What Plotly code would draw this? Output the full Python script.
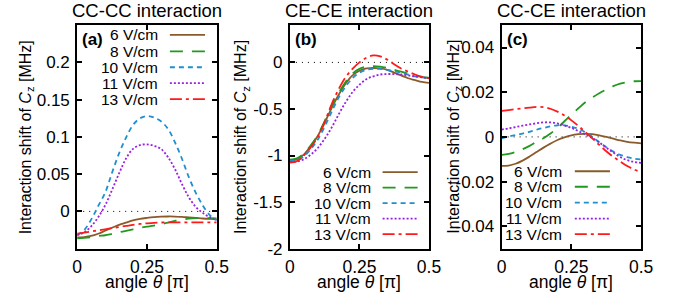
import plotly.graph_objects as go

# ---------------- data ----------------
theta = [0, 0.025, 0.05, 0.075, 0.1, 0.125, 0.15, 0.175, 0.2, 0.225, 0.25,
         0.275, 0.3, 0.325, 0.35, 0.375, 0.4, 0.425, 0.45, 0.475, 0.5]

fields = ["6 V/cm", "8 V/cm", "10 V/cm", "11 V/cm", "13 V/cm"]

# (a) CC-CC interaction
cccc_6 = [-0.035, -0.0345, -0.033, -0.030, -0.026, -0.022, -0.018, -0.015, -0.012, -0.0100, -0.0087,
          -0.0077, -0.0071, -0.0068, -0.0069, -0.0074, -0.0081, -0.0088, -0.0095, -0.0100, -0.0103]
cccc_8 = [-0.036, -0.0355, -0.0345, -0.033, -0.032, -0.030, -0.028, -0.026, -0.024, -0.022, -0.0205,
          -0.019, -0.0172, -0.015, -0.0128, -0.011, -0.0098, -0.0091, -0.0090, -0.0092, -0.0095]
cccc_10 = [-0.032, -0.025, -0.011, 0.007, 0.025, 0.052, 0.078, 0.099, 0.116, 0.125, 0.128,
           0.126, 0.121, 0.111, 0.093, 0.071, 0.046, 0.025, 0.008, -0.005, -0.012]
cccc_11 = [-0.032, -0.028, -0.020, -0.008, 0.008, 0.029, 0.051, 0.071, 0.084, 0.089, 0.090,
           0.088, 0.084, 0.073, 0.057, 0.037, 0.019, 0.006, -0.002, -0.008, -0.012]
cccc_13 = [-0.0297, -0.0285, -0.027, -0.0255, -0.024, -0.0225, -0.021, -0.0195, -0.018, -0.0168, -0.016,
           -0.0153, -0.0149, -0.0147, -0.0146, -0.0146, -0.0146, -0.0146, -0.0146, -0.0146, -0.0146]

# (b) CE-CE interaction
cece_6 = [-1.05, -1.04, -0.99, -0.90, -0.79, -0.65, -0.49, -0.35, -0.23, -0.14, -0.09,
          -0.065, -0.06, -0.065, -0.08, -0.11, -0.14, -0.17, -0.19, -0.21, -0.22]
cece_8 = [-1.045, -1.03, -0.98, -0.89, -0.78, -0.63, -0.47, -0.33, -0.21, -0.12, -0.07,
          -0.045, -0.04, -0.045, -0.06, -0.08, -0.10, -0.12, -0.14, -0.155, -0.165]
cece_10 = [-1.06, -1.05, -1.01, -0.93, -0.83, -0.69, -0.53, -0.38, -0.26, -0.17, -0.11,
           -0.08, -0.07, -0.07, -0.08, -0.095, -0.11, -0.13, -0.15, -0.16, -0.17]
cece_11 = [-1.07, -1.065, -1.04, -0.99, -0.92, -0.82, -0.70, -0.56, -0.43, -0.32, -0.24,
           -0.18, -0.15, -0.13, -0.125, -0.125, -0.13, -0.14, -0.15, -0.16, -0.17]
cece_13 = [-1.075, -1.06, -1.0, -0.91, -0.80, -0.64, -0.45, -0.29, -0.16, -0.07, 0.0,
           0.05, 0.075, 0.065, 0.03, -0.02, -0.065, -0.10, -0.13, -0.155, -0.17]

# (c) CC-CE interaction
ccce_6 = [-0.0130, -0.0128, -0.0120, -0.0106, -0.0088, -0.0068, -0.0048, -0.0030, -0.0014, -0.0002, 0.0007,
          0.0012, 0.0014, 0.0012, 0.0007, 0.0000, -0.0008, -0.0016, -0.0022, -0.0026, -0.0029]
ccce_8 = [-0.0080, -0.0076, -0.0067, -0.0055, -0.0040, -0.0022, -0.0006, 0.0015, 0.0040, 0.0070, 0.0100,
          0.0128, 0.0155, 0.0176, 0.0195, 0.0212, 0.0227, 0.0238, 0.0245, 0.0249, 0.0250]
ccce_10 = [-0.0007, 0.0002, 0.0008, 0.0015, 0.0023, 0.0032, 0.0040, 0.0047, 0.0052, 0.0052, 0.0046,
           0.0036, 0.0021, 0.0000, -0.0024, -0.0046, -0.0066, -0.0080, -0.0090, -0.0097, -0.0101]
ccce_11 = [0.0033, 0.0038, 0.0044, 0.0050, 0.0056, 0.0061, 0.0065, 0.0065, 0.0060, 0.0051, 0.0040,
           0.0026, 0.0011, -0.0005, -0.0025, -0.0048, -0.0070, -0.0090, -0.0104, -0.0112, -0.0116]
ccce_13 = [0.0116, 0.0120, 0.0124, 0.0128, 0.0131, 0.0134, 0.0133, 0.0126, 0.0113, 0.0096, 0.0074,
           0.0049, 0.0022, -0.0006, -0.0036, -0.0064, -0.0089, -0.0110, -0.0130, -0.0146, -0.0158]

titles = ["CC-CC interaction", "CE-CE interaction", "CC-CE interaction"]
panel_labels = ["(a)", "(b)", "(c)"]

x_ticks = [0, 0.25, 0.5]
x_ticktext = ["0", "0.25", "0.5"]
y_ranges = [[-0.05, 0.25], [-2, 0.4], [-0.05, 0.05]]
y_ticks = [[0, 0.05, 0.1, 0.15, 0.2], [-2, -1.5, -1, -0.5, 0], [-0.04, -0.02, 0, 0.02, 0.04]]
y_ticktext = [["0", "0.05", "0.1", "0.15", "0.2"], ["-2", "-1.5", "-1", "-0.5", "0"],
              ["-0.04", "-0.02", "0", "0.02", "0.04"]]

series = [
    [cccc_6, cccc_8, cccc_10, cccc_11, cccc_13],
    [cece_6, cece_8, cece_10, cece_11, cece_13],
    [ccce_6, ccce_8, ccce_10, ccce_11, ccce_13],
]

# ---------------- styles / layout ----------------
W, H = 700, 308
FONT = "Liberation Sans, Arial, sans-serif"
colors = ["#8b5a2b", "#1f9a1f", "#1f8fcf", "#9a1fe6", "#ff1a1a"]
dashes = ["solid", "13px,9px", "5px,4px", "2px,2px", "12px,4px,3px,4px"]
LW = 1.8

frames_x = [(74, 217), (292, 434.5), (509, 652)]
frame_top, frame_bot = 26, 257
legend_rows = [[36, 53, 69.5, 86, 102.5], [178, 194, 210, 226, 242], [177, 193, 209.5, 226, 242]]
legend_text_right = [159, 377, 573]
legend_sample = [(169, 205), (387, 423), (584, 620)]
ytitle_x = [22, 243, 461]


def px(x):
    return x / W


def py(y):
    return 1 - y / H


fig = go.Figure()
annotations = []
shapes = []

for i in range(3):
    xa = "x" if i == 0 else f"x{i+1}"
    ya = "y" if i == 0 else f"y{i+1}"
    # dotted zero line
    fig.add_trace(go.Scatter(x=[0, 0.5], y=[0, 0], mode="lines", xaxis=xa, yaxis=ya,
                             line=dict(color="black", width=1, dash="1px,5px"),
                             showlegend=False, hoverinfo="skip"))
    for j in range(5):
        fig.add_trace(go.Scatter(x=theta, y=series[i][j], mode="lines", xaxis=xa, yaxis=ya,
                                 name=fields[j], showlegend=False,
                                 line=dict(color=colors[j], width=LW, dash=dashes[j], shape="spline")))

    x0, x1 = frames_x[i]
    axis_common = dict(ticks="inside", ticklen=5, tickwidth=1.5, tickcolor="black",
                       showline=True, linewidth=2, linecolor="black", mirror="ticks",
                       showgrid=False, zeroline=False)
    fig.update_layout(**{
        ("xaxis" if i == 0 else f"xaxis{i+1}"): dict(
            domain=[px(x0), px(x1)], range=[0, 0.5], tickvals=x_ticks, ticktext=x_ticktext,
            anchor=ya, ticklabelstandoff=1,
            tickfont=dict(family=FONT, size=17.5, color="black"), **axis_common),
        ("yaxis" if i == 0 else f"yaxis{i+1}"): dict(
            domain=[py(frame_bot), py(frame_top)], range=y_ranges[i], tickvals=y_ticks[i],
            ticktext=y_ticktext[i], anchor=xa, ticklabelstandoff=2,
            tickfont=dict(family=FONT, size=17, color="black"), **axis_common),
    })

    xc = (x0 + x1) / 2
    annotations.append(dict(text=titles[i], x=px(xc), y=py(11), xref="paper", yref="paper",
                            xanchor="center", yanchor="middle", showarrow=False,
                            font=dict(family=FONT, size=18.5, color="black")))
    annotations.append(dict(text="<b>" + panel_labels[i] + "</b>", x=px(x0 + 3), y=py(41),
                            xref="paper", yref="paper", xanchor="left", yanchor="middle",
                            showarrow=False, font=dict(family=FONT, size=17, color="black")))
    annotations.append(dict(text="angle <i>θ</i> [π]", x=px(xc), y=py(291), xref="paper",
                            yref="paper", xanchor="center", yanchor="middle", showarrow=False,
                            font=dict(family=FONT, size=17.5, color="black")))
    annotations.append(dict(text="Interaction shift of <i>C</i><sub>z</sub> [MHz]",
                            x=px(ytitle_x[i]), y=py((frame_top + frame_bot) / 2),
                            xref="paper", yref="paper", xanchor="center", yanchor="middle",
                            textangle=-90, showarrow=False,
                            font=dict(family=FONT, size=16, color="black")))
    # legend
    for j in range(5):
        yy = legend_rows[i][j]
        annotations.append(dict(text=fields[j], x=px(legend_text_right[i]), y=py(yy),
                                xref="paper", yref="paper", xanchor="right", yanchor="middle",
                                showarrow=False, font=dict(family=FONT, size=15.5, color="black")))
        s0, s1 = legend_sample[i]
        shapes.append(dict(type="line", xref="paper", yref="paper", x0=px(s0), x1=px(s1),
                           y0=py(yy), y1=py(yy),
                           line=dict(color=colors[j], width=LW, dash=dashes[j])))

fig.update_layout(width=W, height=H, margin=dict(l=0, r=0, t=0, b=0),
                  paper_bgcolor="white", plot_bgcolor="white",
                  annotations=annotations, shapes=shapes, showlegend=False,
                  font=dict(family=FONT, color="black"))

# remove the browser's default page margin so the figure sits at the window origin
fig.write_html("out.html", config={"displayModeBar": False},
               post_script="document.body.style.margin='0';document.body.style.overflow='hidden';")
